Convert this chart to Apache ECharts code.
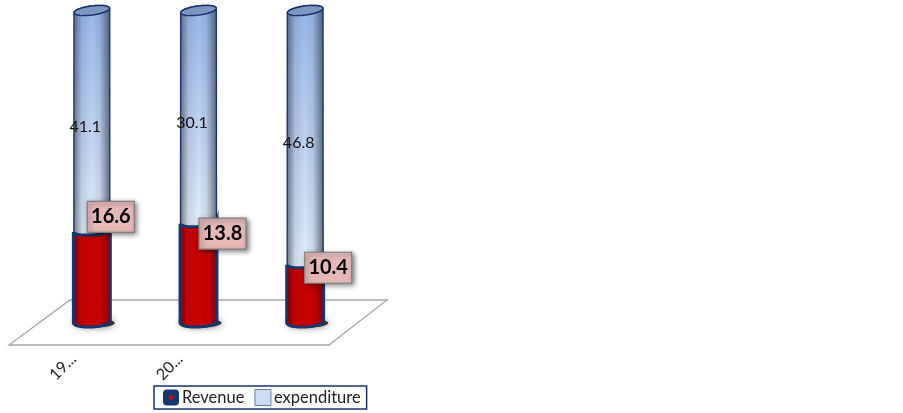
<!DOCTYPE html>
<html>
<head>
<meta charset="utf-8">
<style>html,body{margin:0;padding:0;background:#fff}#c{width:903px;height:413px}</style>
<script src="https://cdn.jsdelivr.net/npm/echarts@6/dist/echarts.min.js"></script>
</head>
<body>
<div id="c"></div>
<script>
const categories = ['19...', '20...', ''];
const revenue = [16.6, 13.8, 10.4];
const expenditure = [41.1, 30.1, 46.8];

// Placement of the manually moved revenue callouts, relative to the top of the red segment
const calloutOffsets = [[19, -14], [24, 11], [23, 4]];

const NAVY = '#17356f';
const FONT = 'Lato, "Open Sans", sans-serif';
const share = (i, v) => v / (revenue[i] + expenditure[i]) * 100;

const revenueRows = revenue.map((v, i) => [i, 0, share(i, v), v]);
const expenditureRows = expenditure.map((v, i) => [i, share(i, revenue[i]), 100, v]);

function arc(cx, cy, rx, ry, tiltDeg, from, to) {
  const a = tiltDeg * Math.PI / 180, pts = [];
  for (let k = 0; k <= 24; k++) {
    const t = from + (to - from) * k / 24;
    pts.push([
      cx + rx * Math.cos(t) * Math.cos(a) - ry * Math.sin(t) * Math.sin(a),
      cy + rx * Math.cos(t) * Math.sin(a) + ry * Math.sin(t) * Math.cos(a)
    ]);
  }
  return pts;
}
function hGrad(stops) {
  return { type: 'linear', x: 0, y: 0, x2: 1, y2: 0,
    colorStops: stops.map(c => ({ offset: c[0], color: c[1] })) };
}
function vGrad(a, b) {
  return { type: 'linear', x: 0, y: 0, x2: 0, y2: 1,
    colorStops: [{ offset: 0, color: a }, { offset: 1, color: b }] };
}
const edgeShade = hGrad([[0, 'rgba(45,55,80,.62)'], [.22, 'rgba(45,55,80,.12)'], [.5, 'rgba(45,55,80,0)'],
  [.72, 'rgba(45,55,80,.1)'], [1, 'rgba(45,55,80,.68)']]);

function renderExpenditure(params, api) {
  const i = api.value(0);
  const [cx, y0] = api.coord([i, api.value(1)]);
  const [, y1] = api.coord([i, api.value(2)]);
  const rx = 18, ry = 4.6, tilt = -7.5;
  const body = arc(cx, y1, rx, ry, tilt, Math.PI, 2 * Math.PI)
    .concat(arc(cx, y0, rx, ry, -3, 0, Math.PI));
  const lid = arc(cx, y1, rx, ry, tilt, 0, 2 * Math.PI);
  return { type: 'group', children: [
    { type: 'polygon', shape: { points: body }, style: { fill: vGrad('#97b6e8', '#e3ecf9'), stroke: NAVY, lineWidth: 1.4 } },
    { type: 'polygon', shape: { points: body }, style: { fill: edgeShade } },
    { type: 'polygon', shape: { points: lid }, style: { fill: '#7e97c2', stroke: NAVY, lineWidth: 1.5 } },
    { type: 'text', x: cx - 6.5, y: (y0 + y1) / 2 + 6, style: {
      text: String(api.value(3)), fill: '#111', font: '16px ' + FONT, align: 'center', verticalAlign: 'middle' } }
  ] };
}

function renderRevenue(params, api) {
  const i = api.value(0);
  const [cx, y0] = api.coord([i, api.value(1)]);
  const [, y1] = api.coord([i, api.value(2)]);
  const rx = 18.5, ry = 4;
  const seam = arc(cx, y1, rx, ry, -3, Math.PI, 0);
  const bottom = arc(cx, y0 + 2, rx, ry + 1, -3, 0, Math.PI);
  const body = seam.concat(bottom);
  const off = calloutOffsets[i];
  return { type: 'group', children: [
    { type: 'ellipse', shape: { cx: cx + 2, cy: y0 + 3, rx: 21, ry: 4.5 },
      style: { fill: 'rgba(0,0,0,.75)', shadowBlur: 7, shadowColor: 'rgba(0,0,0,.7)' } },
    { type: 'polygon', shape: { points: body }, style: { fill: '#c80000' } },
    { type: 'polygon', shape: { points: body }, style: { fill: hGrad([[0, 'rgba(70,0,0,.55)'], [.2, 'rgba(70,0,0,.08)'],
      [.55, 'rgba(70,0,0,0)'], [.8, 'rgba(70,0,0,.1)'], [1, 'rgba(70,0,0,.6)']]) } },
    { type: 'polyline', shape: { points: body.concat([body[0]]) }, style: { fill: null, stroke: NAVY, lineWidth: 3 } },
    { type: 'rect', shape: { x: cx + off[0] - 23.5, y: y1 + off[1] - 15.5, width: 47, height: 31 },
      style: { fill: '#e6b9b8', stroke: '#7f7f7f', lineWidth: 1.2, shadowBlur: 5, shadowColor: 'rgba(0,0,0,.55)', shadowOffsetX: 2, shadowOffsetY: 2 } },
    { type: 'text', x: cx + off[0], y: y1 + off[1], style: {
      text: String(api.value(3)), fill: '#000', font: 'bold 20px ' + FONT, align: 'center', verticalAlign: 'middle' } }
  ] };
}

const chart = echarts.init(document.getElementById('c'), null, { renderer: 'canvas' });
chart.setOption({
  animation: false,
  backgroundColor: '#fff',
  grid: { left: 38.5, width: 320, top: 10.5, bottom: 93 },
  xAxis: {
    type: 'category', data: categories,
    axisLine: { show: false }, axisTick: { show: false }, splitLine: { show: false },
    axisLabel: { rotate: 45, interval: 0, margin: 18, padding: [0, 26, 0, 0], fontSize: 16, fontFamily: FONT, color: '#222' }
  },
  yAxis: { type: 'value', min: 0, max: 100, show: false },
  legend: {
    left: 154, top: 386, padding: [3, 6, 3, 9], itemGap: 10, itemWidth: 16, itemHeight: 16,
    borderColor: NAVY, borderWidth: 1.5, backgroundColor: '#fff',
    textStyle: { fontSize: 16.5, fontFamily: FONT, color: '#222', padding: [0, 0, 0, -2] },
    data: [
      { name: 'Revenue', icon: 'roundRect', itemStyle: { color: { type: 'radial', x: .5, y: .5, r: .5,
        colorStops: [{ offset: 0, color: '#d00000' }, { offset: .3, color: '#d00000' }, { offset: .31, color: NAVY }, { offset: 1, color: NAVY }] } } },
      { name: 'expenditure', icon: 'rect', itemStyle: { color: '#cfdcf2', borderColor: '#5f7fb5', borderWidth: 1 } }
    ]
  },
  graphic: [{
    type: 'polygon', z: 0, silent: true,
    shape: { points: [[9, 345], [329, 345], [387, 300], [70, 300]] },
    style: { fill: '#fff', stroke: '#a6a6a6', lineWidth: 1.3 }
  }],
  series: [
    { name: 'expenditure', type: 'custom', z: 3, renderItem: renderExpenditure, data: expenditureRows, clip: false,
      encode: { x: 0, y: 2 }, itemStyle: { color: '#cfdcf2' } },
    { name: 'Revenue', type: 'custom', z: 4, renderItem: renderRevenue, data: revenueRows, clip: false,
      encode: { x: 0, y: 2 }, itemStyle: { color: '#c80000' } }
  ]
});
</script>
</body>
</html>
